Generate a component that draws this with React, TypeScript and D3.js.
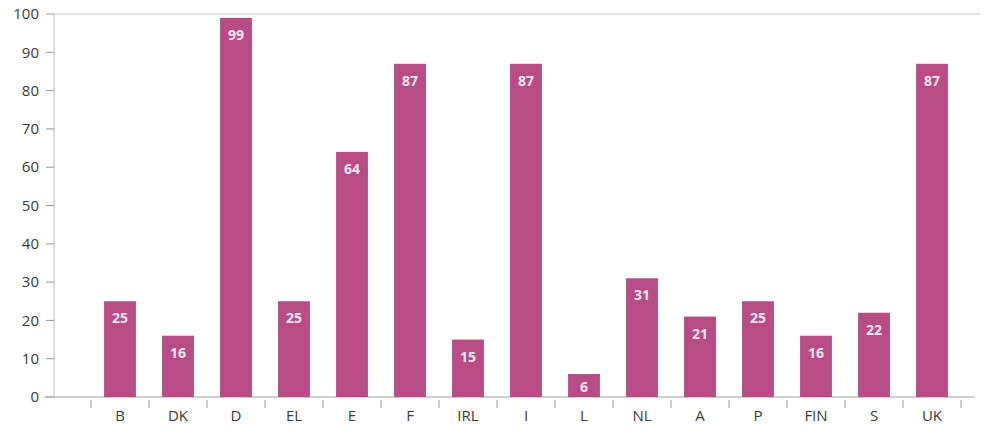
import React from "react";
import * as d3 from "d3";

const categories = ["B", "DK", "D", "EL", "E", "F", "IRL", "I", "L", "NL", "A", "P", "FIN", "S", "UK"];
const values = [25, 16, 99, 25, 64, 87, 15, 87, 6, 31, 21, 25, 16, 22, 87];
const yTicks = [0, 10, 20, 30, 40, 50, 60, 70, 80, 90, 100];

const W = 986;
const H = 437;
const left = 54;
const plotLeft = 91;
const plotRight = 961;
const top = 14;
const bottom = 397;

export default function App() {
  const x = d3.scaleBand<string>().domain(categories).range([plotLeft, plotRight]).padding(0);
  const step = x.step();
  const y = d3.scaleLinear().domain([0, 100]).range([bottom, top]);
  const barW = step * 0.55;
  const font = "'Open Sans', 'Noto Sans', sans-serif";
  const boundaries = [...categories.map((c) => x(c)!), plotRight];

  return (
    <svg width={W} height={H} style={{ position: "absolute", left: 0, top: 0, background: "#fff" }}>
      {/* top border */}
      <line x1={left} x2={980} y1={y(100)} y2={y(100)} stroke="#c8c8c8" strokeWidth={1} />
      {/* y axis */}
      <line x1={left} x2={left} y1={top} y2={bottom} stroke="#bdbdbd" strokeWidth={1} />
      {yTicks.map((t) => (
        <g key={t}>
          <line x1={left - 8} x2={left} y1={y(t)} y2={y(t)} stroke="#9a9a9a" strokeWidth={1} />
          <text x={39} y={y(t)} dy="0.35em" textAnchor="end" fontSize={15} fill="#3a3a3a" fontFamily={font}>
            {t}
          </text>
        </g>
      ))}
      {/* x axis */}
      <line x1={left - 10} x2={975} y1={bottom} y2={bottom} stroke="#a0a0a0" strokeWidth={1} />
      {boundaries.map((b, i) => (
        <line key={i} x1={b} x2={b} y1={bottom + 3} y2={bottom + 11} stroke="#9a9a9a" strokeWidth={1} />
      ))}
      {categories.map((c, i) => {
        const cx = x(c)! + step / 2;
        const v = values[i];
        const yt = y(v);
        return (
          <g key={c}>
            <rect x={cx - barW / 2} y={yt} width={barW} height={bottom - yt} fill="#b84c86" />
            <text
              x={cx}
              y={Math.min(yt + 22, bottom - 5)}
              textAnchor="middle"
              fontSize={14}
              fontWeight="bold"
              fill="#f7e3ee"
              fontFamily={font}
            >
              {v}
            </text>
            <text x={cx} y={421} textAnchor="middle" fontSize={15} fill="#3a3a3a" fontFamily={font}>
              {c}
            </text>
          </g>
        );
      })}
    </svg>
  );
}
